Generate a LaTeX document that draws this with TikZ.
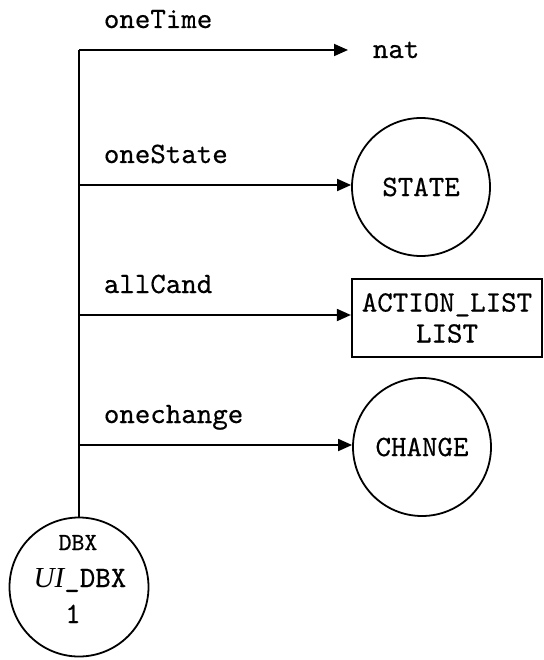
\documentclass[tikz,border=0pt]{standalone}
\usepackage{fontspec}
\newfontfamily\timesfont{Liberation Serif}
\newfontfamily\courfont{lmmono10-regular.otf}[FakeBold=0.5]
\usetikzlibrary{arrows.meta}
\begin{document}
\begin{tikzpicture}[x=1pt,y=-1pt,
  line width=1.8pt,
  lbl/.style={font=\courfont\fontsize{29.5}{32}\selectfont, inner sep=0pt},
  flow/.style={-{Triangle[length=14pt,width=12pt]}},
  typecircle/.style={draw, circle, minimum size=138pt, inner sep=0pt,
    font=\courfont\fontsize{29.5}{32}\selectfont},
  typebox/.style={draw, rectangle, line width=2.2pt, minimum width=190pt,
    minimum height=78pt, inner sep=0pt, align=center,
    font=\courfont\fontsize{29.5}{31}\selectfont}]
  \useasboundingbox (0,0) rectangle (543,660);

  % unit circle at the foot of the bus
  \node[draw, circle, minimum size=139pt, inner sep=0pt] (dbx) at (79,587) {};
  \node[lbl, font=\courfont\fontsize{24.5}{26}\selectfont, anchor=base] (dbxtop) at (78,550) {DBX};
  \node[lbl, anchor=base] (dbxname) at (80,587) {{\timesfont\itshape\fontsize{29}{30}\selectfont UI}\_DBX};
  \node[lbl, anchor=base] (dbxnum) at (73,623) {1};

  % target types
  \node[lbl, anchor=base west] (nat) at (372,58) {nat};
  \node[typecircle] (state) at (421,187) {STATE};
  \node[typebox] (alist) at (447,318) {ACTION\_LIST\\LIST};
  \node[typecircle] (change) at (422,447) {CHANGE};

  % branch points on the bus
  \coordinate (b1) at (79,50);
  \coordinate (b2) at (79,185);
  \coordinate (b3) at (79,315);
  \coordinate (b4) at (79,445);
  \coordinate (natend) at (348,50);

  % bus and branches
  \draw (b1) -- (dbx.north);
  \draw[flow] (b1) -- (natend);
  \draw[flow] (b2) -- (b2 -| state.west);
  \draw[flow] (b3) -- (b3 -| alist.west);
  \draw[flow] (b4) -- (b4 -| change.west);

  % branch labels
  \node[lbl, anchor=base west] (l1) at (103,28) {oneTime};
  \node[lbl, anchor=base west] (l2) at (103,163) {oneState};
  \node[lbl, anchor=base west] (l3) at (103,293) {allCand};
  \node[lbl, anchor=base west] (l4) at (103,423) {onechange};
\end{tikzpicture}
\end{document}
